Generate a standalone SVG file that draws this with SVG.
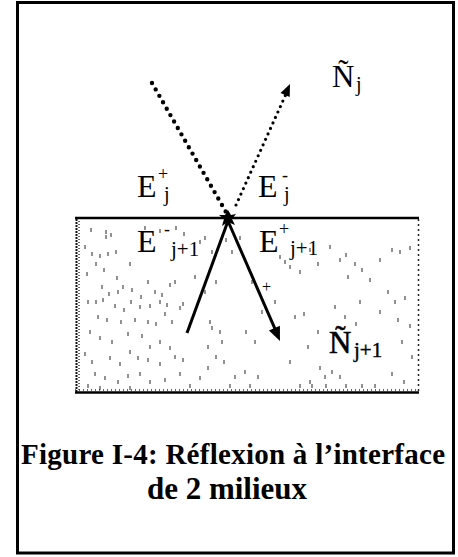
<svg xmlns="http://www.w3.org/2000/svg" width="458" height="557" viewBox="0 0 458 557">
<style>
.speck{stroke:#222;stroke-width:1;fill:none}
</style>
<rect x="0" y="0" width="458" height="557" fill="#fff"/>
<rect id="frame" x="17.5" y="2.5" width="436" height="550.5" fill="none" stroke="#000" stroke-width="3"/>

<g id="medium">
  <line x1="75" y1="218" x2="419" y2="218" stroke="#000" stroke-width="2.5"/>
  <line x1="75" y1="392.5" x2="419" y2="392.5" stroke="#000" stroke-width="2.5"/>
  <line x1="75" y1="390" x2="419" y2="390" stroke="#333" stroke-width="1.5" stroke-dasharray="1 3"/>
  <line x1="76.5" y1="219" x2="76.5" y2="392" stroke="#111" stroke-width="2" stroke-dasharray="2 1"/>
  <line x1="79" y1="221" x2="79" y2="390" stroke="#333" stroke-width="1.5" stroke-dasharray="1 2"/>
  <line x1="418.5" y1="219" x2="418.5" y2="392" stroke="#222" stroke-width="1.5" stroke-dasharray="2 3"/>
  <path class="speck" d="M91 228v4M106 230v4M106 235v4M111 233v4M85 245v4M92 252v4M100 254v4M108 252v4M116 250v4M96 262v4M104 268v4M87 272v4M117 276v4M130 262v4M123 285v4M102 285v4M109 292v4M118 290v4M132 288v4M141 295v4M148 280v4M155 290v4M162 293v4M170 283v4M175 280v4M88 300v4M96 300v4M103 298v4M115 304v4M124 308v4M131 300v4M140 305v4M150 304v4M160 300v4M167 303v4M183 302v4M98 315v4M107 318v4M121 320v4M135 318v4M148 320v4M156 322v4M165 312v4M172 320v4M180 306v4M90 330v4M100 336v4M112 340v4M128 332v4M142 334v4M150 345v4M160 340v4M170 346v4M85 352v4M92 360v4M110 356v4M120 362v4M130 350v4M138 356v4M148 358v4M160 362v4M175 355v4M183 358v4M95 372v4M105 376v4M118 380v4M128 374v4M140 372v4M150 380v4M165 378v4M180 372v4M190 384v4M200 376v4M208 366v4M88 384v4M100 386v4M130 386v4M200 240v4M205 236v4M212 250v4M195 275v4M205 290v4M216 280v4M210 320v4M212 326v4M220 330v4M222 340v4M208 345v4M216 355v4M224 360v4M235 375v4M245 370v4M250 384v4M258 375v4M230 384v4M246 330v4M255 340v4M252 280v4M262 310v4M275 300v4M280 255v4M285 260v4M290 265v4M300 270v4M295 315v4M304 312v4M308 345v4M318 330v4M320 366v4M310 380v4M325 375v4M332 370v4M340 375v4M290 360v4M300 384v4M312 384v4M326 384v4M310 248v4M318 262v4M330 245v4M340 258v4M346 253v4M355 262v4M348 275v4M362 268v4M370 278v4M380 258v4M392 248v4M400 250v4M410 246v4M388 290v4M395 300v4M405 296v4M360 300v4M380 310v4M398 318v4M410 324v4M335 305v4M345 315v4M356 322v4M402 340v4M412 355v4M392 372v4M404 380v4M362 384v4M346 384v4M375 384v4M226 238v4M232 250v4M240 236v4M145 226v4M160 229v4M176 226v4M184 232v4"/>
</g>

<g id="connectors">
  <line id="incident" x1="152" y1="83" x2="226" y2="212" stroke="#000" stroke-width="4.4" stroke-linecap="round" stroke-dasharray="0 7.4"/>
  <line id="reflected" x1="236" y1="205" x2="286" y2="94" stroke="#000" stroke-width="3.2" stroke-linecap="round" stroke-dasharray="0 6"/>
  <polygon points="290,84 289.7,97 280.5,93" fill="#000"/>
  <polygon id="impact" points="228,210 231,215 236,214 232,219 235,225 228,222 222,226 224,219 219,215 225,215" fill="#000"/>
  <line id="up" x1="187" y1="333" x2="228" y2="221" stroke="#000" stroke-width="3"/>
  <line id="down" x1="228" y1="221" x2="275.5" y2="330" stroke="#000" stroke-width="3"/>
  <polygon points="280,341 279.9,325.8 268.9,330.6" fill="#000"/>
</g>

<g font-family="'Liberation Serif', 'DejaVu Serif', serif" fill="#000">
<g id="label-Nj">
  <text x="332" y="87" font-size="31">Ñ<tspan x="356" y="91" font-size="20">j</tspan></text>
</g>
<g id="label-Ej-plus">
  <text x="137" y="197" font-size="32">E<tspan x="158" y="180" font-size="18">+</tspan><tspan x="164" y="201" font-size="20">j</tspan></text>
</g>
<g id="label-Ej-minus">
  <text x="258" y="197" font-size="32">E<tspan x="282" y="181" font-size="18">-</tspan><tspan x="284" y="201" font-size="20">j</tspan></text>
</g>
<g id="label-Ej1-minus">
  <text x="137" y="252" font-size="32">E<tspan x="164" y="235" font-size="18">-</tspan><tspan x="171" y="256" font-size="21">j+1</tspan></text>
</g>
<g id="label-Ej1-plus">
  <text x="259" y="252" font-size="32">E<tspan x="279" y="235" font-size="18">+</tspan><tspan x="290" y="255" font-size="21">j+1</tspan></text>
</g>
<g id="label-plus">
  <text x="262" y="292" font-size="16">+</text>
</g>
<g id="label-Nj1">
  <text x="329" y="353" font-size="31" stroke="#000" stroke-width="0.6">Ñ<tspan x="354" y="357" font-size="21" stroke-width="0.4">j+1</tspan></text>
</g>
<g id="caption" font-weight="bold" font-size="29">
  <text x="21" y="464" textLength="424" lengthAdjust="spacing">Figure I-4: Réflexion à l’interface</text>
  <text x="227" y="499" font-size="31" text-anchor="middle">de 2 milieux</text>
</g>
</g>
</svg>
